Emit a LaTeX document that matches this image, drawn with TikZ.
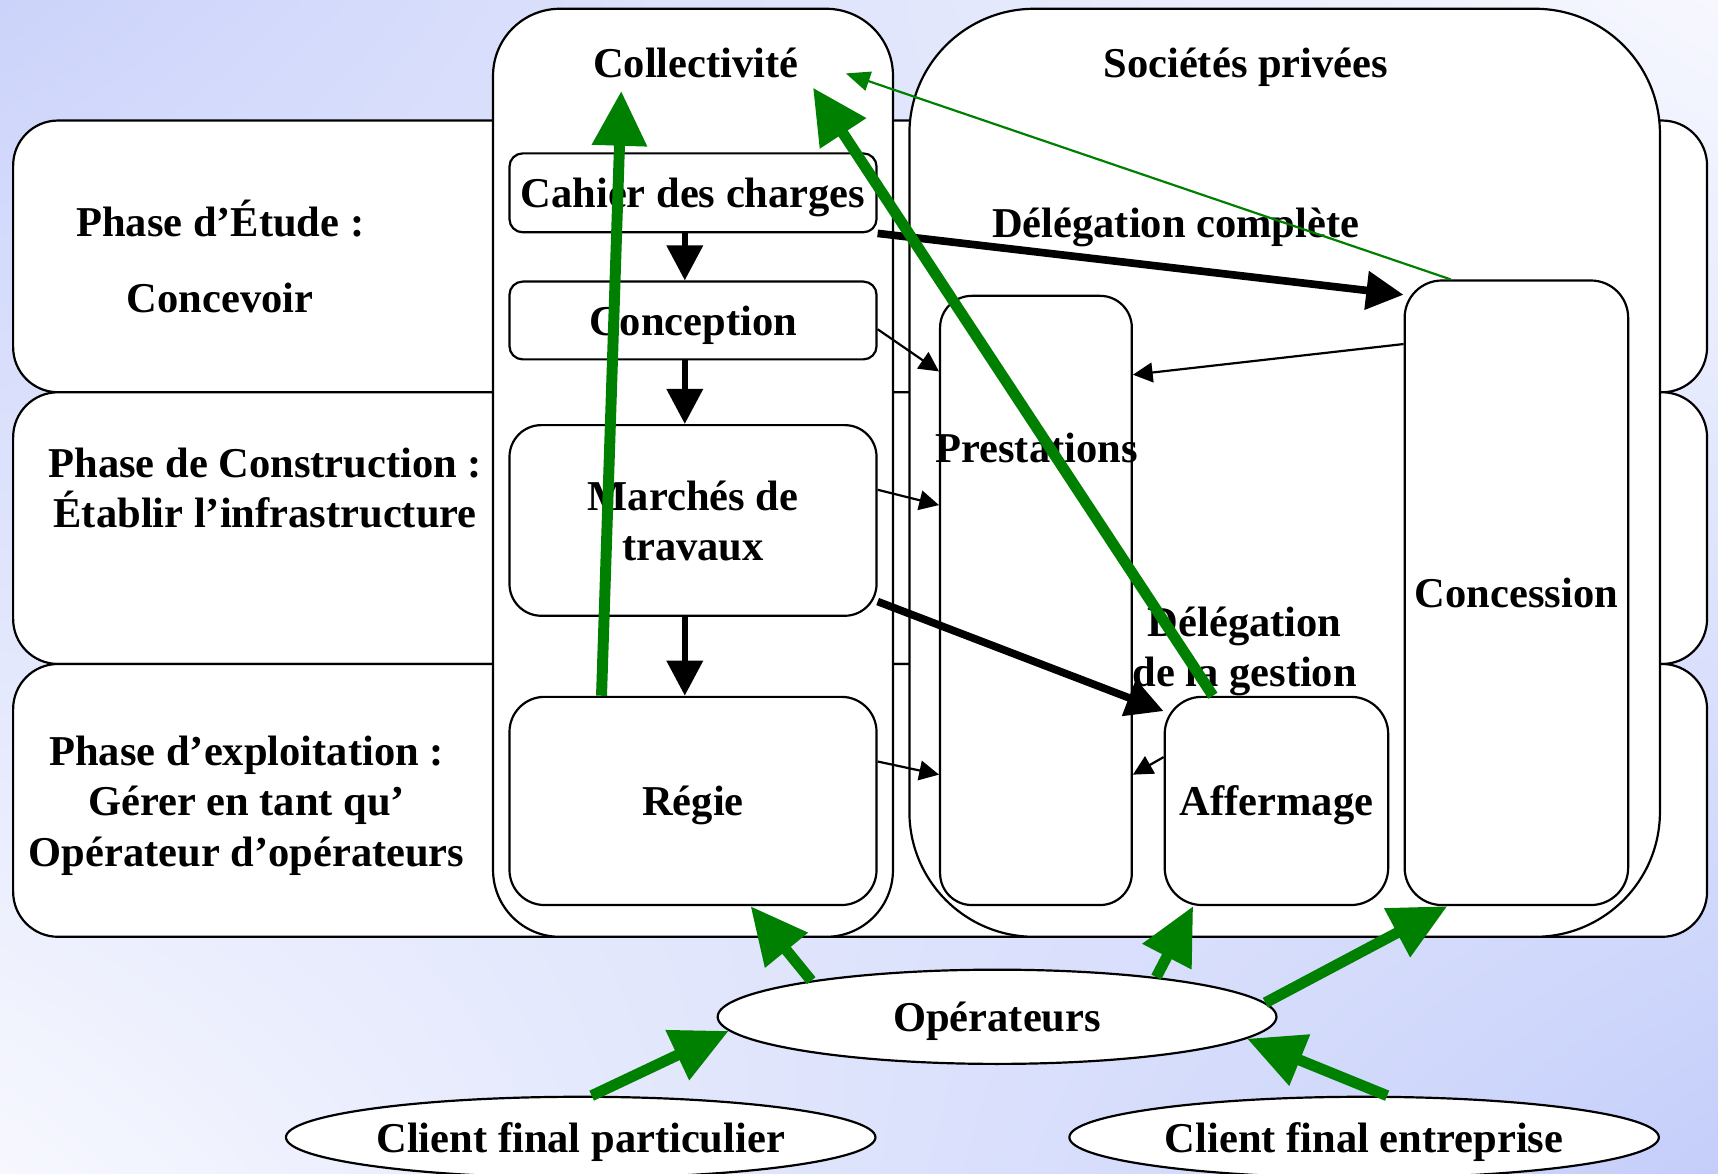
\documentclass[tikz,border=0pt]{standalone}
\usepackage{fontspec}
\setmainfont{Liberation Serif}
\usetikzlibrary{arrows.meta,shapes.geometric,shadings}
\definecolor{bgblueA}{HTML}{CBD3FA}
\definecolor{bgblueB}{HTML}{C4CEFA}
\definecolor{bgpale}{HTML}{F7F8FE}
\definecolor{arrowgreen}{HTML}{008000}

\begin{document}
\begin{tikzpicture}[x=0.5pt,y=-0.5pt,>=Triangle,
  every node/.style={font=\fontsize{19.4}{23}\selectfont\bfseries,text depth=0pt},
  frame/.style={draw,line width=1pt,fill=white},
  box/.style={frame,rectangle,align=center,inner sep=1pt},
  oval/.style={frame,ellipse,inner sep=0pt},
  flow/.style={line width=3pt,-{Triangle[length=16pt,width=16pt]}},
  bigflow/.style={line width=3.5pt,-{Triangle[length=17pt,width=17pt]}},
  feed/.style={line width=1pt,-{Triangle[length=9pt,width=9pt]}},
  report/.style={arrowgreen,line width=5pt,-{Triangle[length=25pt,width=24pt]}},
  thinreport/.style={arrowgreen,line width=1pt,-{Triangle[length=11pt,width=9pt]}},
  supply/.style={arrowgreen,line width=5pt,-{Triangle[length=26pt,width=24pt]}}]
\shade[upper left=bgblueA,upper right=bgpale,lower left=bgpale,lower right=bgblueB]
  (0,0) rectangle (1568,1071);
\useasboundingbox (0,0) rectangle (1568,1071);

% phases
\draw[frame,rounded corners=20.5pt] (12,110) rectangle (1558,358);
\draw[frame,rounded corners=20.5pt] (12,358) rectangle (1558,606);
\draw[frame,rounded corners=20.5pt] (12,606) rectangle (1558,855);
\node[align=center] (etude) at (201,234) {Phase d’Étude :\\[11.5pt]Concevoir};
\node[align=center] (constr) at (242,445) {Phase de Construction :\\Établir l’infrastructure};
\node[align=center] (exploit) at (225,731) {Phase d’exploitation :\\Gérer en tant qu’\\Opérateur d’opérateurs};

% acteurs
\draw[frame,rounded corners=30.5pt] (450,8) rectangle (815,855);
\draw[frame,rounded corners=57pt] (830,8) rectangle (1515,855);
\node (coll) at (635,57) {Collectivité};
\node (soc) at (1137,57) {Sociétés privées};

\node[box,minimum width=167.5pt,minimum height=36pt,rounded corners=6pt] (cahier) at (632.5,176) {Cahier des charges};
\node[box,minimum width=167.5pt,minimum height=35.5pt,rounded corners=6pt] (concep) at (632.5,292.5) {Conception};
\node[box,minimum width=167.5pt,minimum height=87pt,rounded corners=14.5pt] (marches) at (632.5,475) {Marchés de\\travaux};
\node[box,minimum width=167.5pt,minimum height=95pt,rounded corners=16pt] (regie) at (632.5,731) {Régie};
\node[box,minimum width=87.5pt,minimum height=278pt,rounded corners=14.5pt] (prest) at (945.5,548) {};
\node (prestlbl) at (946,409) {Prestations};
\node[box,minimum width=102pt,minimum height=95pt,rounded corners=17pt] (afferm) at (1165,731) {Affermage};
\node[box,minimum width=102pt,minimum height=285pt,rounded corners=17pt] (concess) at (1384,541) {Concession};
\node (delcomp) at (1073,203) {Délégation complète};
\node[align=center] (delgest) at (1136,590) {Délégation\\de la gestion};

\node[oval,minimum width=255pt,minimum height=43pt] (oper) at (910,928) {Opérateurs};
\node[oval,minimum width=269pt,minimum height=37pt] (partic) at (530,1038) {Client final particulier};
\node[oval,minimum width=269pt,minimum height=37pt] (entrep) at (1245,1038) {Client final entreprise};

\coordinate (tipA) at (567,83);
\coordinate (tipB) at (742,80);
\coordinate (tipC) at (772,67);

% flux
\draw[flow] ([xshift=-3.75pt]cahier.south) -- ([xshift=-3.75pt]concep.north);
\draw[flow] ([xshift=-3.75pt]concep.south) -- ([xshift=-3.75pt]marches.north);
\draw[flow] ([xshift=-3.75pt]marches.south) -- ([xshift=-3.75pt]regie.north);
\draw[bigflow] (cahier.south east) -- ([yshift=-7pt]concess.north west);
\draw[bigflow] ([yshift=7pt]marches.south east) -- ([yshift=-7pt]afferm.north west);
\draw[feed] ([yshift=-4pt]concep.east) -- ([yshift=-35pt]prest.north west);
\draw[feed] ([yshift=14pt]marches.east) -- ([yshift=-96pt]prest.north west);
\draw[feed] ([yshift=18pt]regie.east) -- ([yshift=-219pt]prest.north west);
\draw[feed] ([yshift=-29.5pt]concess.north west) -- ([yshift=-36.5pt]prest.north east);
\draw[feed] ([yshift=-28pt]afferm.north west) -- ([yshift=-219pt]prest.north east);

\draw[report] ([xshift=42.5pt]regie.north west) -- (tipA);
\draw[report] ([xshift=22.5pt]afferm.north west) -- (tipB);
\draw[thinreport] ([xshift=21.5pt]concess.north west) -- (tipC);

\draw[supply] (oper.169) -- ([xshift=110.5pt]regie.south west);
\draw[supply] (oper.14) -- ([xshift=13.5pt]afferm.south west);
\draw[supply] (oper.3) -- ([xshift=20pt]concess.south west);
\draw[supply] ([xshift=5pt]partic.north) -- (oper.183);
\draw[supply] ([xshift=10.5pt]entrep.north) -- (oper.355.5);
\end{tikzpicture}
\end{document}
